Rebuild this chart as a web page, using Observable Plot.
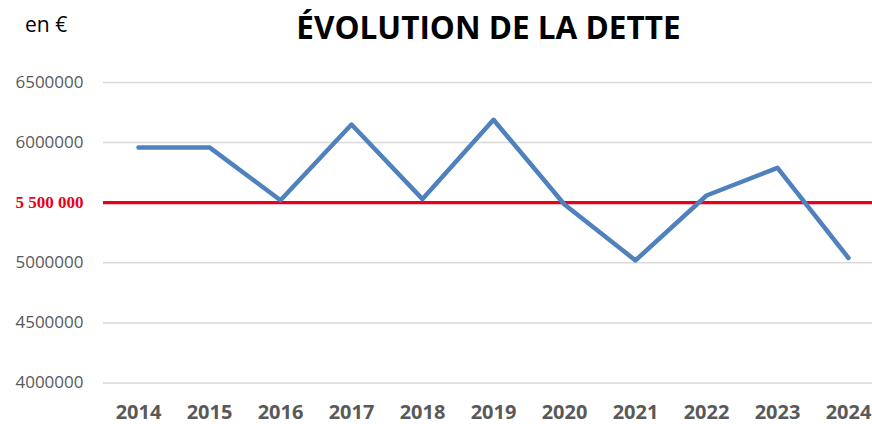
<!DOCTYPE html>
<html>
<head>
<meta charset="utf-8">
<script src="https://cdn.jsdelivr.net/npm/d3@7"></script>
<script src="https://cdn.jsdelivr.net/npm/@observablehq/plot@0.6"></script>
<style>
  html, body { margin: 0; padding: 0; background: #fff; }
  #wrap { position: relative; width: 872px; height: 424px; overflow: hidden; }
  #title { position: absolute; left: 0; width: 977px; top: 5px; text-align: center;
    font-family: "Open Sans", sans-serif; font-weight: 700; font-size: 31.5px; color: #000; white-space: nowrap; }
  #unit { position: absolute; left: 25px; top: 10px; font-family: "Open Sans", sans-serif; font-size: 21px; color: #000; }
  #chart { position: absolute; left: 0; top: 0; }
</style>
</head>
<body>
<div id="wrap">
  <div id="chart"></div>
  <div id="title">ÉVOLUTION DE LA DETTE</div>
  <div id="unit">en €</div>
</div>
<script>
const years = ["2014","2015","2016","2017","2018","2019","2020","2021","2022","2023","2024"];
const debt = [5960000, 5960000, 5520000, 6150000, 5530000, 6190000, 5485000, 5020000, 5560000, 5790000, 5040000];
const yTicks = [4000000, 4500000, 5000000, 6000000, 6500000];
const threshold = 5500000;
const thresholdLabel = "5 500 000";

const data = years.map((y, i) => ({year: y, value: debt[i]}));

const chart = Plot.plot({
  width: 872,
  height: 424,
  marginLeft: 103,
  marginRight: 0,
  marginTop: 82,
  marginBottom: 41.5,
  style: {background: "transparent", overflow: "visible"},
  x: {type: "point", domain: years, range: [137.5, 847.5], padding: 0},
  y: {domain: [4000000, 6500000]},
  marks: [
    Plot.ruleY(yTicks, {stroke: "#d9d9d9", strokeWidth: 1.5}),
    Plot.axisY(yTicks, {tickSize: 0, tickPadding: 20, tickFormat: d => String(d),
      fill: "#595959", fontSize: 17, fontFamily: "Open Sans", label: null}),
    Plot.axisX(years, {tickSize: 0, tickPadding: 22, fill: "#595959", fontSize: 20,
      fontWeight: "bold", fontFamily: "Open Sans", label: null}),
    Plot.ruleY([threshold], {stroke: "#e8001c", strokeWidth: 3.2}),
    Plot.text([threshold], {y: d => d, text: () => thresholdLabel, frameAnchor: "left",
      dx: -20, textAnchor: "end", fill: "#e8001c", fontSize: 17, fontWeight: "bold",
      fontFamily: "Liberation Serif, Times New Roman, serif"}),
    Plot.line(data, {x: "year", y: "value", stroke: "#4f81bd", strokeWidth: 4.5,
      strokeLinejoin: "round", strokeLinecap: "round"})
  ]
});
document.getElementById("chart").appendChild(chart);
</script>
</body>
</html>
